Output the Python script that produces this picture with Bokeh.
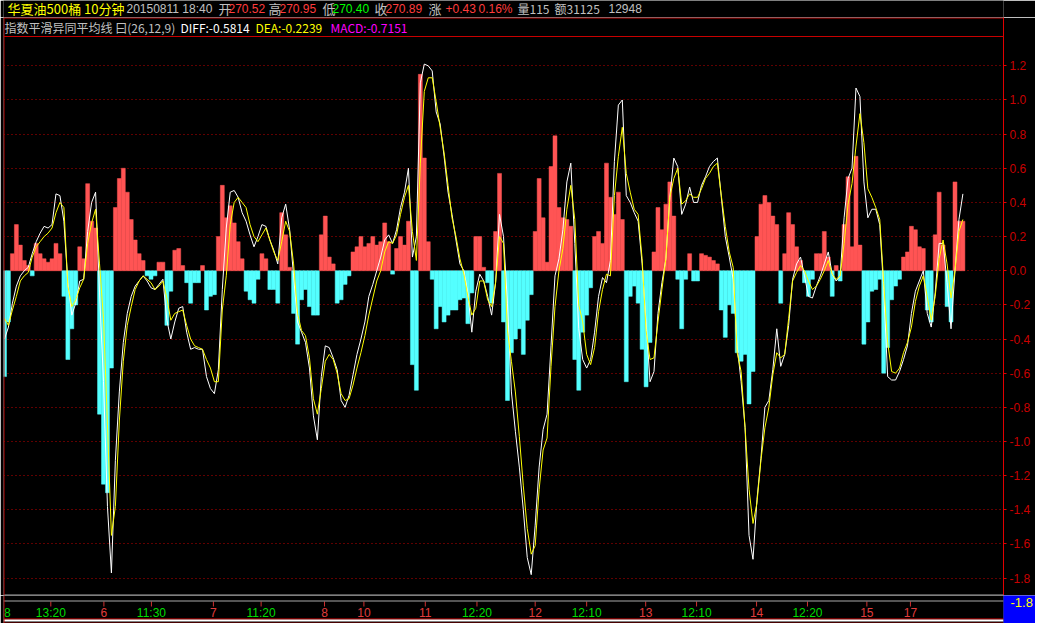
from bokeh.plotting import figure
from bokeh.layouts import column
from bokeh.models import (Range1d, FixedTicker, Span, Label, ColumnDataSource,
                          PrintfTickFormatter, LinearAxis)
from bokeh.core.properties import value
from bokeh.embed import file_html
from bokeh.resources import INLINE

# ---------------- data (one value per 10-minute bar sample) ----------------
macd = [
    -0.62, -0.30, 0.10, 0.27, 0.15, 0.06, 0.03, -0.03, 0.16, 0.10,
    0.07, 0.05, 0.07, 0.16, 0.10, -0.15, -0.52, -0.34, -0.20, 0.14,
    0.07, 0.51, 0.29, 0.25, -0.84, -1.25, -1.30, -0.57, 0.37, 0.54,
    0.60, 0.46, 0.30, 0.18, 0.10, 0.06, -0.03, -0.05, -0.03, 0.05,
    0.05, -0.32, -0.12, 0.12, 0.13, 0.03, -0.07, -0.19, -0.07, -0.07,
    0.03, -0.23, -0.15, -0.14, 0.20, 0.50, 0.31, 0.38, 0.28, 0.17,
    0.07, -0.12,
    -0.17, -0.19, -0.05, 0.10, 0.07, -0.11, -0.11, -0.19, 0.34, 0.21,
    0.02, -0.25, -0.43, -0.17, -0.11, -0.21, -0.26, -0.26, 0.21, 0.32,
    0.08, 0.04, -0.19, -0.17, -0.08, -0.03, 0.11, 0.14, 0.20, 0.14,
    0.16, 0.20, 0.15, 0.17, 0.28, 0.17, -0.02, 0.13, 0.20, 0.15,
    0.29, -0.55, -0.70, 1.15, 0.66, 0.17, -0.05, -0.34, -0.21, -0.30,
    -0.26, -0.23, -0.23, -0.17, -0.16, -0.31, -0.13, 0.20, 0.20, 0.02,
    -0.07, -0.19, 0.23, 0.57, -0.30, -0.76, -0.48, -0.40, -0.34, -0.49,
    -0.29, -0.14, 0.23, 0.54, 0.31, 0.05, 0.61, 0.79, 0.37, 0.31,
    0.30, 0.26, -0.52, -0.70, -0.36, -0.26, -0.10, 0.20, 0.23, 0.16,
    0.63, 0.43, 0.33, 0.46, 0.30, -0.65, -0.15, -0.09, -0.19, -0.46,
    -0.68, -0.42, 0.11, 0.37, 0.24, 0.39, 0.52, 0.32, -0.05, -0.34,
    -0.05, 0.10, -0.06, -0.06, 0.10, 0.09, 0.08, 0.06, 0.04, -0.23,
    -0.39, -0.20, -0.25, -0.48, -0.53, -0.49, -0.78, -0.59, 0.20, 0.39,
    0.44, 0.40, 0.32, 0.27, -0.19, 0.10, 0.34, 0.27, 0.14, 0.06,
    -0.07, -0.15, -0.05, 0.10, 0.10, 0.23, 0.08, -0.15, 0.03, -0.06,
    0.27, 0.55, 0.14, 0.67, 0.15, -0.43, -0.30, -0.12, -0.11, -0.05,
    -0.60, -0.45, -0.17, -0.09, -0.05, 0.08, 0.11, 0.26, 0.24, 0.14,
    0.13, -0.23, -0.30, 0.21, 0.46, 0.15, -0.21, -0.30, 0.52, 0.29,
    0.29,
]

diff = [
    -0.40, -0.33, -0.19, -0.09, -0.03, 0.00, 0.02, 0.10, 0.17, 0.22,
    0.26, 0.25, 0.27, 0.45, 0.44, 0.29, -0.07, -0.26, -0.19, -0.06,
    -0.05, 0.23, 0.40, 0.46, -0.13, -0.65, -1.38, -1.77, -1.11, -0.71,
    -0.42, -0.25, -0.15, -0.09, -0.06, -0.03, -0.06, -0.10, -0.11, -0.08,
    -0.05, -0.29, -0.40, -0.30, -0.22, -0.21, -0.36, -0.46, -0.45, -0.46,
    -0.46, -0.62, -0.69, -0.72, -0.58, -0.11, 0.25, 0.46, 0.47, 0.43,
    0.34, 0.29,
    0.21, 0.14, 0.20, 0.27, 0.26, 0.18, 0.12, 0.04, 0.31, 0.39,
    0.24, -0.03, -0.30, -0.36, -0.42, -0.57, -0.85, -0.99, -0.62, -0.44,
    -0.45, -0.51, -0.58, -0.76, -0.80, -0.73, -0.61, -0.49, -0.40, -0.30,
    -0.15, -0.08, 0.00, 0.08, 0.18, 0.21, 0.16, 0.24, 0.37, 0.46,
    0.60, 0.08, 0.20, 1.10, 1.21, 1.20, 1.17, 0.93, 0.86, 0.67,
    0.46, 0.33, 0.18, 0.04, 0.00, -0.13, -0.36, -0.12, -0.02, -0.06,
    -0.15, -0.26, -0.07, 0.33, 0.20, -0.19, -0.71, -0.94, -1.15, -1.40,
    -1.68, -1.78, -1.49, -1.15, -0.93, -0.84, -0.44, -0.03, 0.07, 0.24,
    0.52, 0.63, 0.16, -0.34, -0.52, -0.57, -0.52, -0.36, -0.15, -0.04,
    -0.07, 0.06, 0.64, 0.97, 1.00, 0.44, 0.40, 0.34, 0.29, 0.04,
    -0.30, -0.65, -0.59, -0.25, -0.07, 0.07, 0.43, 0.66, 0.61, 0.33,
    0.39, 0.49, 0.40, 0.40, 0.50, 0.55, 0.61, 0.64, 0.66, 0.43,
    0.20, 0.08, -0.05, -0.44, -0.65, -0.92, -1.55, -1.69, -1.34, -1.10,
    -0.80, -0.76, -0.58, -0.34, -0.56, -0.49, -0.32, -0.05, 0.04, 0.08,
    -0.03, -0.15, -0.16, -0.09, -0.03, 0.04, 0.11, -0.02, -0.06, -0.03,
    0.31, 0.54, 0.60, 1.07, 1.02, 0.52, 0.31, 0.36, 0.36, 0.27,
    -0.11, -0.62, -0.64, -0.64, -0.59, -0.52, -0.44, -0.25, -0.12, -0.06,
    0.00, -0.25, -0.33, -0.13, 0.16, 0.16, -0.07, -0.34, 0.00, 0.30,
    0.45,
]

dea = [
    -0.28, -0.32, -0.23, -0.15, -0.06, -0.03, -0.01, 0.08, 0.14, 0.17,
    0.20, 0.22, 0.25, 0.34, 0.40, 0.37, -0.09, -0.21, -0.17, -0.10,
    -0.05, 0.16, 0.28, 0.36, 0.04, -0.28, -0.90, -1.55, -1.38, -0.88,
    -0.53, -0.32, -0.21, -0.11, -0.06, -0.03, -0.05, -0.07, -0.11, -0.09,
    -0.06, -0.16, -0.29, -0.25, -0.24, -0.23, -0.32, -0.40, -0.44, -0.45,
    -0.46, -0.52, -0.57, -0.65, -0.65, -0.23, -0.03, 0.27, 0.40, 0.43,
    0.40, 0.37,
    0.27, 0.20, 0.17, 0.21, 0.25, 0.18, 0.11, 0.06, 0.17, 0.29,
    0.23, 0.04, -0.25, -0.35, -0.38, -0.51, -0.75, -0.84, -0.69, -0.53,
    -0.49, -0.52, -0.60, -0.72, -0.76, -0.75, -0.67, -0.57, -0.48, -0.38,
    -0.26, -0.16, -0.06, 0.00, 0.11, 0.17, 0.16, 0.21, 0.33, 0.43,
    0.50, 0.23, 0.06, 0.63, 1.05, 1.13, 1.13, 0.99, 0.84, 0.69,
    0.50, 0.31, 0.20, 0.07, -0.02, -0.15, -0.26, -0.22, -0.06, -0.06,
    -0.17, -0.21, -0.07, 0.20, 0.16, -0.35, -0.53, -0.71, -0.97, -1.26,
    -1.51, -1.66, -1.61, -1.28, -1.05, -0.98, -0.56, -0.21, 0.00, 0.13,
    0.36, 0.50, 0.30, -0.20, -0.30, -0.49, -0.55, -0.45, -0.24, -0.11,
    -0.02, -0.03, 0.44, 0.67, 0.84, 0.57, 0.46, 0.36, 0.33, 0.07,
    -0.35, -0.52, -0.51, -0.30, -0.11, 0.07, 0.43, 0.54, 0.60, 0.39,
    0.41, 0.45, 0.43, 0.43, 0.48, 0.54, 0.57, 0.61, 0.63, 0.44,
    0.26, 0.11, 0.02, -0.48, -0.59, -0.92, -1.28, -1.48, -1.36, -1.11,
    -0.92, -0.80, -0.61, -0.48, -0.51, -0.49, -0.28, -0.06, -0.01, 0.03,
    0.00, -0.06, -0.11, -0.09, -0.05, 0.00, 0.06, -0.02, -0.05, -0.03,
    0.16, 0.39, 0.51, 0.73, 0.92, 0.75, 0.48, 0.43, 0.37, 0.30,
    -0.07, -0.42, -0.59, -0.60, -0.57, -0.48, -0.42, -0.33, -0.18, -0.09,
    -0.03, -0.15, -0.29, -0.15, 0.07, 0.18, 0.04, -0.16, 0.00, 0.23,
    0.30,
]

y_ticks = [-1.8, -1.6, -1.4, -1.2, -1.0, -0.8, -0.6, -0.4, -0.2, 0.0,
           0.2, 0.4, 0.6, 0.8, 1.0, 1.2]

# x tick labels (bar index position, text, kind: day / time)
tick_pos = [0.75, 11.7, 25.1, 37.1, 52.75, 64.8, 80.8, 90.75, 106.25, 119.3,
            134.0, 147.0, 161.9, 174.75, 189.9, 202.75, 217.75, 228.75]
tick_text = ["8", "13:20", "6", "11:30", "7", "11:20", "8", "10", "11", "12:20",
             "12", "12:10", "13", "12:10", "14", "12:20", "15", "17"]
tick_kind = ["time", "time", "day", "time", "day", "time", "day", "day", "day", "time",
             "day", "time", "day", "time", "day", "time", "day", "day"]

last_value = "-1.8"

CJK = "Noto Sans CJK SC"
LAT = "Liberation Sans"

header1_text = ["华夏油500桶 10分钟", "20150811 18:40", "开", "270.52", "高", "270.95",
                "低", "270.40", "收", "270.89", "涨", "+0.43", "0.16%",
                "量115", "额31125", "12948"]
header1_color = ["#ffff00", "#c0c0c0", "#c0c0c0", "#ff3c3c", "#c0c0c0", "#ff3c3c",
                 "#c0c0c0", "#00ff00", "#c0c0c0", "#ff3c3c", "#c0c0c0", "#ff3c3c", "#ff3c3c",
                 "#c0c0c0", "#c0c0c0", "#c0c0c0"]
header1_x = [7, 126, 218, 228, 268, 279, 322, 332, 374, 385, 428, 445, 478, 517, 554, 608]
header1_font = [CJK, LAT, CJK, LAT, CJK, LAT, CJK, LAT, CJK, LAT, CJK, LAT, LAT, CJK, CJK, LAT]
header1_size = ["13px", "12px", "13px", "12px", "13px", "12px", "13px", "12px", "13px", "12px",
                "13px", "12px", "12px", "12px", "12px", "12px"]

header2 = [("指数平滑异同平均线 曰(26,12,9)", "#c0c0c0", 1), ("DIFF:-0.5814", "#ffffff", 177),
           ("DEA:-0.2239", "#ffff00", 252), ("MACD:-0.7151", "#ff00ff", 327)]

W = 1035
HEAD_H, MAIN_H, FOOT_H = 17, 578, 28
LEFT, RIGHT = 3, 32
X0, X1 = -0.25, 252.25
Y0, Y1 = -1.902, 1.483


def base_fig(height, **kw):
    return figure(width=W, height=height, output_backend="svg", toolbar_location=None,
                  min_border_left=LEFT, min_border_right=RIGHT,
                  background_fill_color="#000000", border_fill_color="#000000",
                  outline_line_color=None, **kw)


# ---------------- header row 1 ----------------
head = base_fig(HEAD_H, x_range=Range1d(LEFT, W - RIGHT), y_range=Range1d(0, HEAD_H),
                x_axis_location=None, y_axis_location=None,
                min_border_top=0, min_border_bottom=0)
head.grid.visible = False
hsrc = ColumnDataSource(dict(x=header1_x, y=[HEAD_H / 2 + 0.5] * len(header1_x),
                             text=header1_text, color=header1_color,
                             font=header1_font, size=header1_size))
head.text(x="x", y="y", text="text", text_color="color", text_font="font",
          text_font_size="size", source=hsrc, text_baseline="middle", text_align="left")

# ---------------- main chart ----------------
p = base_fig(MAIN_H, x_range=Range1d(X0, X1), y_range=Range1d(Y0, Y1),
             y_axis_location="right", x_axis_location=None,
             min_border_top=0, min_border_bottom=0)

p.xgrid.visible = False
p.ygrid.ticker = FixedTicker(ticks=y_ticks)
p.ygrid.grid_line_color = "#c00000"
p.ygrid.grid_line_dash = "1 3"
p.ygrid.grid_line_width = 1

p.yaxis.ticker = FixedTicker(ticks=y_ticks)
p.yaxis.formatter = PrintfTickFormatter(format="%.1f")
p.yaxis.axis_line_color = "#e00000"
p.yaxis.major_tick_line_color = "#e00000"
p.yaxis.major_tick_out = 3
p.yaxis.major_tick_in = 0
p.yaxis.minor_tick_line_color = None
p.yaxis.major_label_text_color = "#c80000"
p.yaxis.major_label_text_font = LAT
p.yaxis.major_label_text_font_size = "12px"
p.yaxis.major_label_standoff = 3

px_y = (Y1 - Y0) / MAIN_H
px_x = (X1 - X0) / (W - LEFT - RIGHT)
p.add_layout(Span(location=Y1 - 0.5 * px_y, dimension="width", line_color="#c80000"))
p.add_layout(Span(location=Y1 - 19 * px_y, dimension="width", line_color="#c80000"))
p.add_layout(Span(location=Y0 + 0.5 * px_y, dimension="width", line_color="#a8a8a8"))
p.add_layout(Span(location=X0 + 0.5 * px_x, dimension="height", line_color="#c80000"))

# histogram
bar_colors = ["#ff5454" if v >= 0 else "#54ffff" for v in macd]
src = ColumnDataSource(dict(x=list(range(len(macd))), top=macd, color=bar_colors))
p.vbar(x="x", top="top", bottom=0, width=1.0, fill_color="color", line_color="color",
       line_width=0.5, source=src)

# DIFF / DEA
p.line(list(range(len(diff))), diff, line_color="#ffffff", line_width=1)
p.line(list(range(len(dea))), dea, line_color="#ffff00", line_width=1)

# indicator title row (inside the frame, between the two red lines)
for txt, col, sx in header2:
    p.add_layout(Label(x=sx, y=MAIN_H - 10, x_units="screen", y_units="screen", text=txt,
                       text_color=col, text_font=CJK, text_font_size="12px",
                       text_baseline="middle", text_align="left"))

# ---------------- footer: time axis ----------------
foot = base_fig(FOOT_H, x_range=p.x_range, y_range=Range1d(0, FOOT_H),
                x_axis_location=None, y_axis_location=None,
                min_border_top=0, min_border_bottom=0)
foot.grid.visible = False
foot.add_layout(Span(location=FOOT_H - 5.5, dimension="width", line_color="#a8a8a8"))
foot.add_layout(Span(location=FOOT_H - 23.5, dimension="width", line_color="#e00000"))
foot.add_layout(Span(location=FOOT_H - 25, dimension="width", line_color="#ffffff", line_width=2))
foot.add_layout(Span(location=FOOT_H - 27.5, dimension="width", line_color="#900000"))
foot.add_layout(Span(location=X0 + 0.5 * px_x, dimension="height", line_color="#c80000"))

tsrc = ColumnDataSource(dict(x=tick_pos[1:], y0=[FOOT_H - 6] * (len(tick_pos) - 1),
                             y1=[FOOT_H - 11] * (len(tick_pos) - 1)))
foot.segment(x0="x", y0="y0", x1="x", y1="y1", line_color="#d03030", source=tsrc)
lsrc = ColumnDataSource(dict(x=tick_pos, y=[FOOT_H - 17] * len(tick_pos), text=tick_text,
                             color=["#e03c3c" if k == "day" else "#00dc00" for k in tick_kind]))
foot.text(x="x", y="y", text="text", text_color="color", source=lsrc,
          text_font=value(LAT), text_font_size=value("12px"),
          text_baseline="middle", text_align="center")

# current value marker in the right margin (an axis with a single labelled tick)
mark_axis = LinearAxis(ticker=FixedTicker(ticks=[FOOT_H - 7]),
                       major_label_overrides={FOOT_H - 7: last_value},
                       axis_line_color=None, major_tick_line_color=None,
                       minor_tick_line_color=None, major_label_standoff=1,
                       major_label_text_color="#ffff00", major_label_text_font=LAT,
                       major_label_text_font_size="13px")
props = mark_axis.properties()
if "background_fill_color" in props:
    mark_axis.background_fill_color = "#0000ff"
foot.add_layout(mark_axis, "right")

layout = column(head, p, foot, spacing=0)
open("out.html", "w").write(file_html(layout, INLINE))
